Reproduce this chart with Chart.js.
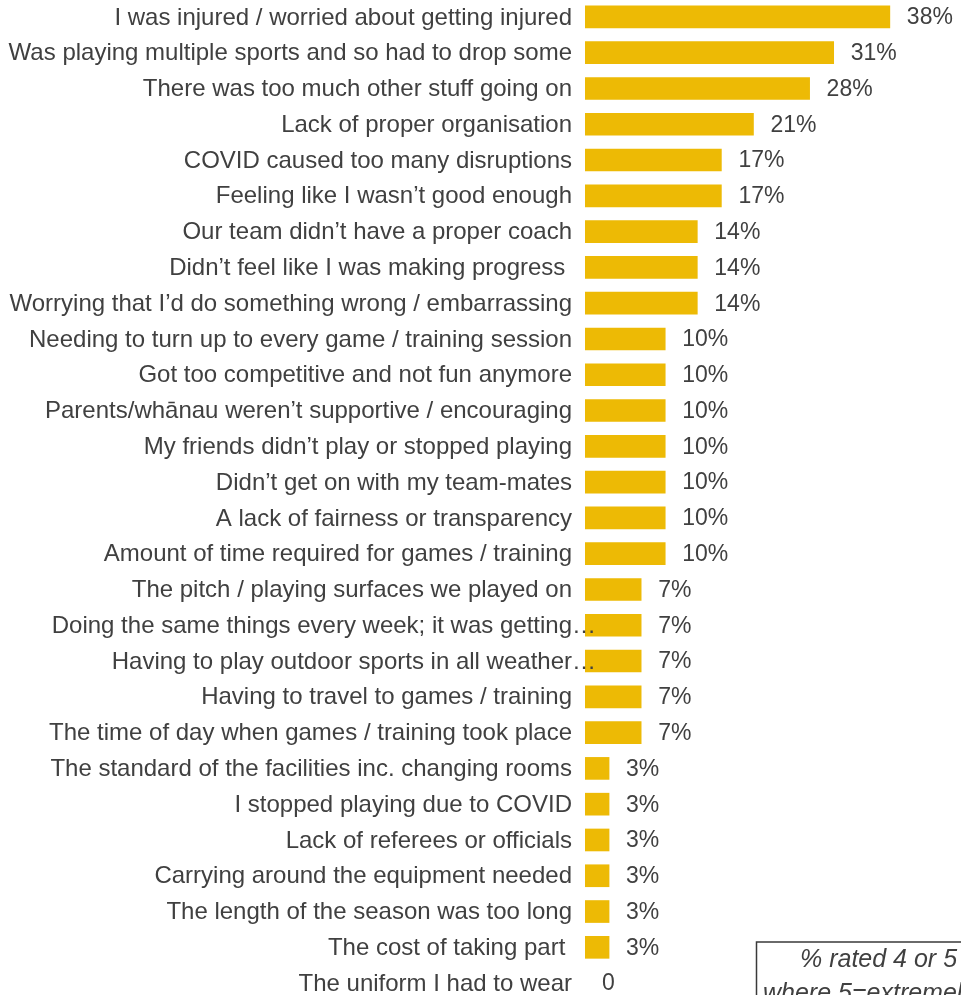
<!DOCTYPE html>
<html>
<head>
<meta charset="utf-8">
<script src="https://cdn.jsdelivr.net/npm/chart.js@4.4.0/dist/chart.umd.min.js"></script>
<style>
  html, body { margin: 0; padding: 0; background: #ffffff; overflow: hidden; }
  body { width: 961px; height: 995px; position: relative; }
  #wrap { position: absolute; left: 0; top: -1px; width: 961px; height: 1002px; }
</style>
</head>
<body>
<div id="wrap"><canvas id="chart" width="961" height="1002"></canvas></div>
<script>
// Reasons for stopping, share of respondents rating each 4 or 5
const reasons = [
  "I was injured / worried about getting injured",
  "Was playing multiple sports and so had to drop some",
  "There was too much other stuff going on",
  "Lack of proper organisation",
  "COVID caused too many disruptions",
  "Feeling like I wasn\u2019t good enough",
  "Our team didn\u2019t have a proper coach",
  "Didn\u2019t feel like I was making progress ",
  "Worrying that I\u2019d do something wrong / embarrassing",
  "Needing to turn up to every game / training session",
  "Got too competitive and not fun anymore",
  "Parents/wh\u0101nau weren\u2019t supportive / encouraging",
  "My friends didn\u2019t play or stopped playing",
  "Didn\u2019t get on with my team-mates",
  "A lack of fairness or transparency",
  "Amount of time required for games / training",
  "The pitch / playing surfaces we played on",
  "Doing the same things every week; it was getting\u2026",
  "Having to play outdoor sports in all weather\u2026",
  "Having to travel to games / training",
  "The time of day when games / training took place",
  "The standard of the facilities inc. changing rooms",
  "I stopped playing due to COVID",
  "Lack of referees or officials",
  "Carrying around the equipment needed",
  "The length of the season was too long",
  "The cost of taking part ",
  "The uniform I had to wear"
];

const percentRated = [38, 31, 28, 21, 17, 17, 14, 14, 14, 10, 10, 10, 10, 10, 10, 10,
                      7, 7, 7, 7, 7, 3, 3, 3, 3, 3, 3, 0];

const noteLines = ["% rated 4 or 5", "where 5=extremely important"];

const TEXT = "#404040";
const GOLD = "#EDBA05";
const FONT = '"Liberation Sans", Arial, sans-serif';

// Category labels, value labels and the note box
const annotate = {
  id: "annotate",
  afterDatasetsDraw(chart) {
    const ctx = chart.ctx;
    const xs = chart.scales.x;
    const ys = chart.scales.y;
    const meta = chart.getDatasetMeta(0);
    ctx.save();
    ctx.fillStyle = TEXT;
    ctx.textBaseline = "middle";

    // category labels, right-aligned against the bars
    ctx.font = "24px " + FONT;
    ctx.textAlign = "right";
    reasons.forEach((r, i) => {
      const y = ys.getPixelForValue(i);
      let x = xs.left - 13;
      if (r.endsWith("\u2026")) x += 24;
      ctx.fillText(r, x, y + 1);
    });

    // value labels past the end of each bar
    ctx.font = "23px " + FONT;
    ctx.textAlign = "left";
    meta.data.forEach((bar, i) => {
      const v = percentRated[i];
      const txt = v === 0 ? "0" : v + "%";
      ctx.fillText(txt, bar.x + 17, bar.y + 1);
    });

    // note box in the lower right
    const bx = 756.5, by = 943;
    ctx.strokeStyle = "#3a3a3a";
    ctx.lineWidth = 1.5;
    ctx.strokeRect(bx, by, 400, 120);
    ctx.font = "italic 25px " + FONT;
    ctx.textBaseline = "alphabetic";
    ctx.fillText(noteLines[0], 800, 968);
    ctx.fillText(noteLines[1], 763, 1002);
    ctx.restore();
  }
};

new Chart(document.getElementById("chart"), {
  type: "bar",
  data: {
    labels: reasons,
    datasets: [{
      data: percentRated,
      backgroundColor: percentRated.map(v => v === 0 ? "rgba(0,0,0,0)" : GOLD),
      borderWidth: 0,
      barThickness: 22
    }]
  },
  options: {
    indexAxis: "y",
    responsive: false,
    animation: false,
    devicePixelRatio: 1,
    layout: { padding: { left: 585, right: 15, top: 0, bottom: 0 } },
    scales: {
      x: { display: false, min: 0, max: 45 },
      y: { display: false }
    },
    plugins: {
      legend: { display: false },
      tooltip: { enabled: false }
    }
  },
  plugins: [annotate]
});
</script>
</body>
</html>
